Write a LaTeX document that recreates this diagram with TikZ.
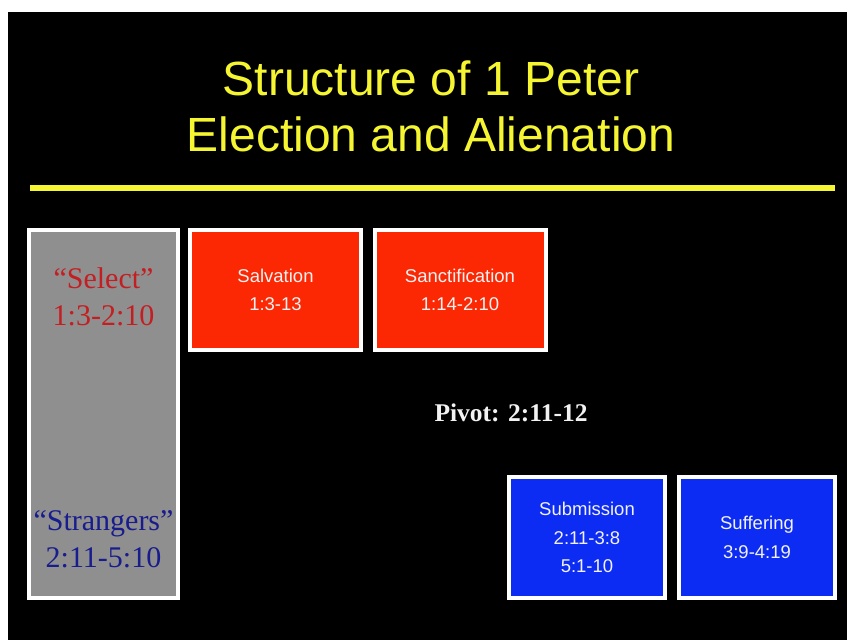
\documentclass[tikz,border=0pt]{standalone}
\usepackage{fontspec}
\setmainfont{Liberation Serif}
\setsansfont{Liberation Sans}
\definecolor{slideyellow}{RGB}{245,245,50}
\definecolor{panelred}{RGB}{252,40,4}
\definecolor{panelblue}{RGB}{12,44,244}
\definecolor{panelgray}{RGB}{143,143,143}
\definecolor{selectred}{RGB}{196,30,34}
\definecolor{strangerblue}{RGB}{24,28,140}
\definecolor{softwhite}{RGB}{242,242,242}
\tikzset{
  panel/.style={draw=white, line width=4pt, inner sep=0pt, align=center,
    text=softwhite, font=\sffamily\fontsize{18.5}{28.5}\selectfont},
  redpanel/.style={panel, fill=panelred, minimum width=171pt, minimum height=120pt},
  bluepanel/.style={panel, fill=panelblue, minimum width=156pt, minimum height=121pt},
  graypanel/.style={panel, fill=panelgray, minimum width=149pt, minimum height=368pt},
  sidelabel/.style={align=center, inner sep=0pt, font=\fontsize{30}{37}\selectfont},
}
\begin{document}
\begin{tikzpicture}[x=1pt, y=-1pt]
\useasboundingbox (0,0) rectangle (847,640);
\fill[white] (0,0) rectangle (847,640);
\fill[black] (8,12) rectangle (847,640);
% title and rule
\node[align=center, inner sep=0pt, text=slideyellow,
  font=\sffamily\fontsize{48}{56}\selectfont] (title) at (431,106)
  {Structure of 1 Peter\\Election and Alienation};
\coordinate (rule-l) at (30,188);
\coordinate (rule-r) at (835,188);
\draw[slideyellow, line width=6pt] (rule-l) -- (rule-r);
% left column
\node[graypanel] (side) at (103.5,414){};
\node[sidelabel, text=selectred] (select) at (103.5,297)
  {``Select''\\1:3-2:10};
\node[sidelabel, text=strangerblue] (strangers) at (103.5,539)
  {``Strangers''\\2:11-5:10};
% upper panels
\node[redpanel] (salvation) at (275.5,290) {Salvation\\1:3-13};
\node[redpanel] (sanctification) at (460,290) {Sanctification\\1:14-2:10};
% pivot
\node[inner sep=0pt, text=softwhite, font=\bfseries\fontsize{25.5}{28}\selectfont]
  (pivot) at (511,413) {Pivot: 2:11-12};
% lower panels
\node[bluepanel] (submission) at (587,537.5) {Submission\\2:11-3:8\\5:1-10};
\node[bluepanel] (suffering) at (757,537.5) {Suffering\\3:9-4:19};
\end{tikzpicture}
\end{document}
